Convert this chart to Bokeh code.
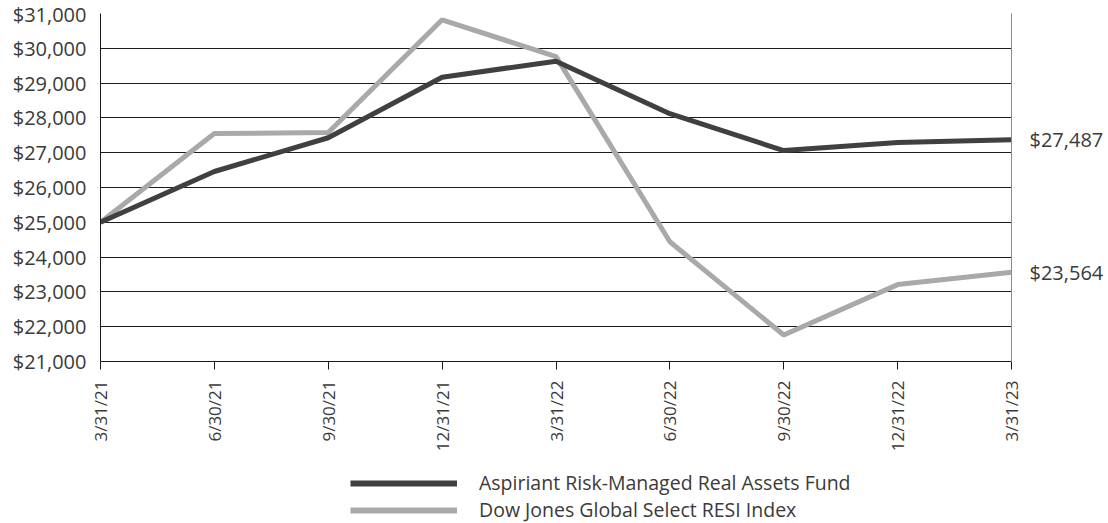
import math
from bokeh.plotting import figure
from bokeh.layouts import column
from bokeh.models import (FixedTicker, LinearAxis, NumeralTickFormatter, Legend,
                          LegendItem, Range1d)
from bokeh.embed import file_html
from bokeh.resources import INLINE

dates = ["3/31/21", "6/30/21", "9/30/21", "12/31/21", "3/31/22",
         "6/30/22", "9/30/22", "12/31/22", "3/31/23"]
fund = [25000, 26460, 27430, 29170, 29630, 28120, 27060, 27290, 27370]
index = [25000, 27550, 27580, 30820, 29760, 24440, 21760, 23210, 23564]
fund_name = "Aspiriant Risk-Managed Real Assets Fund"
index_name = "Dow Jones Global Select RESI Index"
end_labels = ["$27,487", "$23,564"]
y_ticks = list(range(21000, 31001, 1000))

FONT = "Open Sans"
TXT = "#3a3a3a"
DARK = "#404040"
LIGHT = "#a9a9a9"

x = list(range(len(dates)))

p = figure(width=1108, height=455, output_backend="svg", toolbar_location=None,
           x_range=Range1d(0, len(dates) - 1),
           y_range=Range1d(y_ticks[0], y_ticks[-1]),
           min_border_left=100, min_border_right=97, min_border_top=13,
           min_border_bottom=94)
p.outline_line_color = None
p.background_fill_color = "white"

r_fund = p.line(x, fund, line_color=DARK, line_width=5)
r_index = p.line(x, index, line_color=LIGHT, line_width=5)
p.renderers = [r_index, r_fund]

# grid
p.xgrid.grid_line_color = None
p.ygrid.ticker = FixedTicker(ticks=y_ticks)
p.ygrid.grid_line_color = "#1a1a1a"
p.ygrid.grid_line_width = 1

# y axis
ya = p.yaxis[0]
ya.ticker = FixedTicker(ticks=y_ticks)
ya.formatter = NumeralTickFormatter(format="$0,0")
ya.major_tick_line_color = None
ya.minor_tick_line_color = None
ya.major_tick_out = 0
ya.major_tick_in = 0
ya.axis_line_color = "#1a1a1a"
ya.major_label_standoff = 14
ya.major_label_text_font = FONT
ya.major_label_text_font_size = "20px"
ya.major_label_text_color = TXT

# x axis
xa = p.xaxis[0]
xa.ticker = FixedTicker(ticks=x)
xa.major_label_overrides = {i: d for i, d in zip(x, dates)}
xa.major_label_orientation = math.pi / 2
xa.minor_tick_line_color = None
xa.major_tick_in = 0
xa.major_tick_out = 8
xa.major_tick_line_color = "#1a1a1a"
xa.axis_line_color = "#1a1a1a"
xa.major_label_standoff = 11
xa.major_label_text_font = FONT
xa.major_label_text_font_size = "17px"
xa.major_label_text_color = TXT

# right axis with end-value labels
ends = [fund[-1], index[-1]]
ra = LinearAxis(ticker=FixedTicker(ticks=ends),
                major_label_overrides={v: s for v, s in zip(ends, end_labels)})
ra.axis_line_color = "#8a8a8a"
ra.major_tick_line_color = None
ra.minor_tick_line_color = None
ra.major_tick_out = 0
ra.major_tick_in = 0
ra.major_label_standoff = 18
ra.major_label_text_font = FONT
ra.major_label_text_font_size = "20px"
ra.major_label_text_color = TXT
p.add_layout(ra, "right")

# legend strip below the chart (series drawn out of view, only the legend shows)
p2 = figure(width=1108, height=68, output_backend="svg", toolbar_location=None,
            x_axis_type=None, y_axis_type=None, min_border=0,
            x_range=Range1d(0, 1), y_range=Range1d(0, 1))
p2.outline_line_color = None
p2.grid.grid_line_color = None
l_fund = p2.line(x, fund, line_color=DARK, line_width=6)
l_index = p2.line(x, index, line_color=LIGHT, line_width=6)

legend = Legend(items=[LegendItem(label=fund_name, renderers=[l_fund]),
                       LegendItem(label=index_name, renderers=[l_index])],
                location=(250, 0), orientation="vertical")
legend.glyph_width = 107
legend.glyph_height = 20
legend.label_height = 20
legend.spacing = 0
legend.padding = 0
legend.margin = 0
legend.label_standoff = 22
legend.border_line_color = None
legend.background_fill_alpha = 0
legend.label_text_font = FONT
legend.label_text_font_size = "19.5px"
legend.label_text_color = TXT
p2.add_layout(legend, "center")

layout = column(p, p2, spacing=0)
open("out.html", "w").write(file_html(layout, INLINE))
